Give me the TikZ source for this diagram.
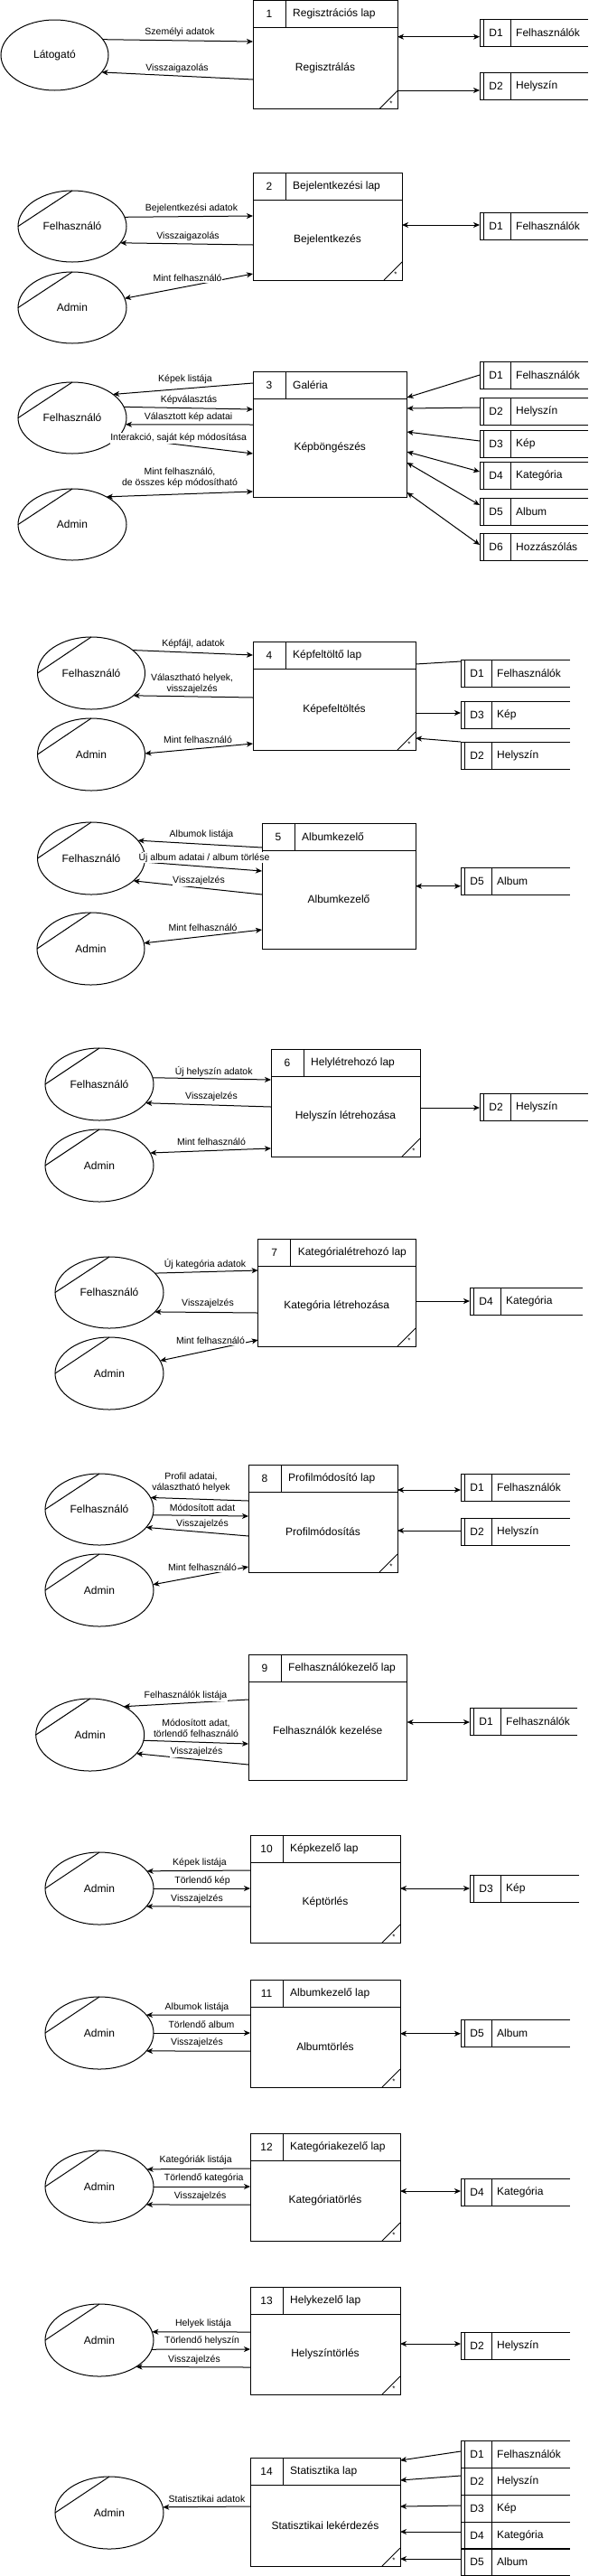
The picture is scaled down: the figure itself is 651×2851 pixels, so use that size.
\documentclass[tikz,border=0pt]{standalone}
\usepackage{fontspec}
\setmainfont{Liberation Sans}
\usetikzlibrary{arrows.meta,shapes.geometric}
% name, x1, y1, w, h, number, title, body, star
\newcommand{\procbox}[9]{%
  \node[procnode, minimum width=#4pt, minimum height=#5pt] (#1) at (#2,#3) {};
  \draw[ln] ([yshift=-30pt]#1.north west) -- ([yshift=-30pt]#1.north east);
  \draw[ln] ([xshift=36pt]#1.north west) -- ([xshift=36pt,yshift=-30pt]#1.north west);
  \node[txt] (#1n) at ([xshift=18pt,yshift=-15pt]#1.north west) {#6};
  \node[txt, anchor=west] (#1t) at ([xshift=44pt,yshift=-15pt]#1.north west) {#7};
  \node[txt] (#1b) at ({#2+#4/2},{#3+(30+#5)/2}) {#8};
  \ifnum#9=1
    \draw[ln] ([xshift=-20pt]#1.south east) -- ([yshift=20pt]#1.south east);
    \node[startxt] (#1s) at ([xshift=-7pt,yshift=6pt]#1.south east) {*};
  \fi
}
% name, x1, y1, w, id, text
\newcommand{\storebox}[6]{%
  \node[storenode, minimum width=#4pt] (#1) at (#2,#3) {};
  \draw[ln] (#1.north east) -- (#1.north west) -- (#1.south west) -- (#1.south east);
  \draw[ln] ([xshift=4.5pt]#1.north west) -- ([xshift=4.5pt]#1.south west);
  \draw[ln] ([xshift=34.5pt]#1.north west) -- ([xshift=34.5pt]#1.south west);
  \node[txt] (#1i) at ([xshift=18pt]#1.west) {#5};
  \node[txt, anchor=west] (#1t) at ([xshift=40pt]#1.west) {#6};
}
% name, cx, cy, w, h, text, chord
\newcommand{\mkent}[7]{%
  \node[ent, minimum width=#4pt, minimum height=#5pt] (#1) at (#2,#3) {#6};
  \ifnum#7=1 \draw[ln] (#1.north) -- (#1.west);\fi
}
\begin{document}
\begin{tikzpicture}[x=1pt,y=-1pt,
  ln/.style={line width=1pt, draw=black},
  arr/.style={ln,-{Stealth[length=7pt,width=6pt,inset=2pt]}},
  darr/.style={ln,{Stealth[length=7pt,width=6pt,inset=2pt]}-{Stealth[length=7pt,width=6pt,inset=2pt]}},
  txt/.style={font=\fontsize{12}{14}\selectfont, inner sep=0pt},
  lbl/.style={font=\fontsize{10.5}{12}\selectfont, inner sep=0.6pt, fill=white, align=center},
  startxt/.style={font=\fontsize{8}{8}\selectfont, inner sep=0pt},
  procnode/.style={draw, line width=1pt, rectangle, anchor=north west, inner sep=0pt, outer sep=0pt},
  storenode/.style={rectangle, anchor=north west, minimum height=30pt, inner sep=0pt, outer sep=0pt},
  ent/.style={draw, line width=1pt, ellipse, inner sep=0pt, outer sep=0pt, font=\fontsize{12}{14}\selectfont},
]
\fill[white] (0,0) rectangle (651,2851);
\useasboundingbox (0,0) rectangle (651,2851);

% ---------- 1 ----------
\procbox{p1}{280}{0.5}{160}{120}{1}{Regisztrációs lap}{Regisztrálás}{1}
\mkent{e1}{60.5}{61}{119}{78}{Látogató}{0}
\storebox{d1a}{531}{21}{120}{D1}{Felhasználók}
\storebox{d2a}{531}{80}{120}{D2}{Helyszín}
\draw[arr] (e1.18) -- (p1.west |- 0,46);
\draw[arr] (p1.west |- 0,88) -- (e1.-20);
\draw[darr] (p1.east |- 0,40.7) -- (d1a.west |- 0,40.7);
\draw[arr] (p1.east |- 0,100) -- (d2a.west |- 0,100);
\node[lbl] (l1a) at (199,36) {Személyi adatok};
\node[lbl] (l1b) at (196,76) {Visszaigazolás};

% ---------- 2 ----------
\procbox{p2}{280}{191}{165}{119}{2}{Bejelentkezési lap}{Bejelentkezés}{1}
\mkent{e2}{80}{250.5}{120}{79}{Felhasználó}{1}
\mkent{e3}{80}{340.5}{120}{79}{Admin}{1}
\storebox{d1b}{531}{235}{120}{D1}{Felhasználók}
\draw[arr] (e2.10) -- (p2.west |- 0,239);
\draw[arr] (p2.west |- 0,271) -- (e2.-19);
\draw[darr] (e3.10) -- (p2.west |- 0,303);
\draw[darr] (p2.east |- 0,249) -- (d1b.west |- 0,249);
\node[lbl] (l2a) at (212,231) {Bejelentkezési adatok};
\node[lbl] (l2b) at (208,262) {Visszaigazolás};
\node[lbl] (l2c) at (207.6,308) {Mint felhasználó};

% ---------- 3 ----------
\procbox{p3}{280}{411}{170.5}{139}{3}{Galéria}{Képböngészés}{0}
\mkent{e4}{80}{462.5}{120}{79}{Felhasználó}{1}
\mkent{e5}{80}{580.5}{120}{79}{Admin}{1}
\storebox{d1c}{531}{400}{120}{D1}{Felhasználók}
\storebox{d2c}{531}{440}{120}{D2}{Helyszín}
\storebox{d3c}{531}{476}{120}{D3}{Kép}
\storebox{d4c}{531}{511}{120}{D4}{Kategória}
\storebox{d5c}{531}{551}{120}{D5}{Album}
\storebox{d6c}{531}{590}{120}{D6}{Hozzászólás}
\draw[arr] (p3.west |- 0,424) -- (e4.30);
\draw[arr] (e4.12) -- (p3.west |- 0,453);
\draw[arr] (p3.west |- 0,470) -- (e4.-7);
\draw[arr] (e4.-23) -- (p3.west |- 0,502);
\draw[darr] (e5.39) -- (p3.west |- 0,544);
\draw[arr] (d1c.west |- 0,415) -- (p3.east |- 0,440);
\draw[arr] (d2c.west |- 0,451) -- (p3.east |- 0,452);
\draw[arr] (d3c.west |- 0,488) -- (p3.east |- 0,478);
\draw[darr] (p3.east |- 0,500) -- (d4c.west |- 0,522);
\draw[darr] (p3.east |- 0,512) -- (d5c.west |- 0,559);
\draw[darr] (p3.east |- 0,545) -- (d6c.west |- 0,603);
\node[lbl] (l3a) at (205,420) {Képek listája};
\node[lbl] (l3b) at (209,443) {Képválasztás};
\node[lbl] (l3c) at (208.6,462) {Választott kép adatai};
\node[lbl] (l3d) at (197.6,485) {Interakció, saját kép módosítása};
\node[lbl] (l3e) at (199,529) {Mint felhasználó,\\de összes kép módosítható};

% ---------- 4 ----------
\procbox{p4}{280}{710}{180}{120}{4}{Képfeltöltő lap}{Képefeltöltés}{1}
\mkent{e6}{101}{745}{119}{80}{Felhasználó}{1}
\mkent{e7}{101}{835}{119}{80}{Admin}{1}
\storebox{d1d}{510}{730}{121}{D1}{Felhasználók}
\storebox{d3d}{510}{776}{121}{D3}{Kép}
\storebox{d2d}{510}{821}{121}{D2}{Helyszín}
\draw[arr] (e6.29) -- (p4.west |- 0,725);
\draw[arr] (p4.west |- 0,772) -- (e6.-28);
\draw[darr] (e7.1) -- (p4.west |- 0,823);
\draw[ln] (p4.east |- 0,735) -- (d1d.west |- 0,732);
\draw[arr] (p4.east |- 0,789) -- (d3d.west |- 0,789);
\draw[arr] (d2d.north west) -- (p4.east |- 0,817);
\node[lbl] (l4a) at (214,713) {Képfájl, adatok};
\node[lbl] (l4b) at (212.6,757) {Választható helyek,\\visszajelzés};
\node[lbl] (l4c) at (219,819) {Mint felhasználó};

% ---------- 5 ----------
\procbox{p5}{290}{911}{170}{139}{5}{Albumkezelő}{Albumkezelő}{0}
\mkent{e8}{101}{950}{119}{80}{Felhasználó}{1}
\mkent{e9}{100.5}{1050}{119}{80}{Admin}{1}
\storebox{d5e}{510}{960}{121}{D5}{Album}
\draw[arr] (p5.west |- 0,938) -- (e8.21);
\draw[arr] (e8.-4) -- (p5.west |- 0,964);
\draw[arr] (p5.west |- 0,990) -- (e8.-28);
\draw[darr] (e9.6) -- (p5.west |- 0,1029);
\draw[darr] (p5.east |- 0,980.7) -- (d5e.west |- 0,980.7);
\node[lbl] (l5a) at (223,924) {Albumok listája};
\node[lbl] (l5b) at (226,949) {Új album adatai / album törlése};
\node[lbl] (l5c) at (220,975) {Visszajelzés};
\node[lbl] (l5d) at (224.6,1027) {Mint felhasználó};

% ---------- 6 ----------
\procbox{p6}{300}{1161}{165}{119}{6}{Helylétrehozó lap}{Helyszín létrehozása}{1}
\mkent{e10}{110}{1200}{120}{80}{Felhasználó}{1}
\mkent{e11}{110}{1290}{120}{80}{Admin}{1}
\storebox{d2f}{531}{1210}{120}{D2}{Helyszín}
\draw[arr] (e10.7) -- (p6.west |- 0,1195);
\draw[arr] (p6.west |- 0,1225) -- (e10.-22);
\draw[darr] (e11.14) -- (p6.west |- 0,1271);
\draw[arr] (p6.east |- 0,1226) -- (d2f.west |- 0,1226);
\node[lbl] (l6a) at (236.7,1186) {Új helyszín adatok};
\node[lbl] (l6b) at (234,1214) {Visszajelzés};
\node[lbl] (l6c) at (234,1264) {Mint felhasználó};

% ---------- 7 ----------
\procbox{p7}{285.6}{1371}{174.4}{119}{7}{Kategórialétrehozó lap}{Kategória létrehozása}{1}
\mkent{e12}{121}{1430.5}{120}{79}{Felhasználó}{1}
\mkent{e13}{121}{1520}{120}{80}{Admin}{1}
\storebox{d4g}{520}{1425}{125}{D4}{Kategória}
\draw[arr] (e12.23) -- (p7.west |- 0,1406);
\draw[arr] (p7.west |- 0,1453) -- (e12.-23);
\draw[darr] (e13.14) -- (p7.west |- 0,1483);
\draw[arr] (p7.east |- 0,1440) -- (d4g.west |- 0,1440);
\node[lbl] (l7a) at (227,1399) {Új kategória adatok};
\node[lbl] (l7b) at (230,1443) {Visszajelzés};
\node[lbl] (l7c) at (233,1484) {Mint felhasználó};

% ---------- 8 ----------
\procbox{p8}{275}{1621}{165}{119}{8}{Profilmódosító lap}{Profilmódosítás}{1}
\mkent{e14}{110}{1670.5}{120}{79}{Felhasználó}{1}
\mkent{e15}{110}{1760}{120}{80}{Admin}{1}
\storebox{d1h}{510}{1631}{121}{D1}{Felhasználók}
\storebox{d2h}{510}{1680}{121}{D2}{Helyszín}
\draw[arr] (p8.west |- 0,1661) -- (e14.13);
\draw[arr] (e14.-6) -- (p8.west |- 0,1678);
\draw[arr] (p8.west |- 0,1700) -- (e14.-21);
\draw[darr] (e15.6) -- (p8.west |- 0,1734);
\draw[darr] (p8.east |- 0,1649) -- (d1h.west |- 0,1649);
\draw[arr] (d2h.west |- 0,1694) -- (p8.east |- 0,1694);
\node[lbl] (l8a) at (211.5,1641) {Profil adatai,\\választható helyek};
\node[lbl] (l8b) at (224,1669) {Módosított adat};
\node[lbl] (l8c) at (224,1687) {Visszajelzés};
\node[lbl] (l8d) at (224,1735) {Mint felhasználó};

% ---------- 9 ----------
\procbox{p9}{275}{1831}{175.5}{139}{9}{Felhasználókezelő lap}{Felhasználók kezelése}{0}
\mkent{e16}{99.7}{1920}{120}{80}{Admin}{1}
\storebox{d1i}{520}{1890}{119}{D1}{Felhasználók}
\draw[arr] (p9.west |- 0,1881) -- (e16.40);
\draw[arr] (e16.-6) -- (p9.west |- 0,1930);
\draw[arr] (p9.west |- 0,1953) -- (e16.-22);
\draw[darr] (p9.east |- 0,1906) -- (d1i.west |- 0,1906);
\node[lbl] (l9a) at (205.5,1877) {Felhasználók listája};
\node[lbl] (l9b) at (217,1913) {Módosított adat,\\törlendő felhasználó};
\node[lbl] (l9c) at (217.5,1939) {Visszajelzés};

% ---------- 10 ----------
\procbox{p10}{277}{2031}{166}{119}{10}{Képkezelő lap}{Képtörlés}{1}
\mkent{e17}{110}{2090}{120}{80}{Admin}{1}
\storebox{d3j}{520}{2075}{121}{D3}{Kép}
\draw[arr] (p10.west |- 0,2070) -- (e17.20);
\draw[arr] (e17.0) -- (p10.west |- 0,2090);
\draw[arr] (p10.west |- 0,2110) -- (e17.-21);
\draw[darr] (p10.east |- 0,2090) -- (d3j.west |- 0,2090);
\node[lbl] (l10a) at (221,2062) {Képek listája};
\node[lbl] (l10b) at (224,2082) {Törlendő kép};
\node[lbl] (l10c) at (218,2102) {Visszajelzés};

% ---------- 11 ----------
\procbox{p11}{277}{2191}{166}{119}{11}{Albumkezelő lap}{Albumtörlés}{1}
\mkent{e18}{110}{2250}{120}{80}{Admin}{1}
\storebox{d5k}{510}{2235}{121}{D5}{Album}
\draw[arr] (p11.west |- 0,2230) -- (e18.21);
\draw[arr] (e18.0) -- (p11.west |- 0,2250);
\draw[arr] (p11.west |- 0,2270) -- (e18.-21);
\draw[darr] (p11.east |- 0,2250.7) -- (d5k.west |- 0,2250.7);
\node[lbl] (l11a) at (218,2222) {Albumok listája};
\node[lbl] (l11b) at (223,2241) {Törlendő album};
\node[lbl] (l11c) at (218,2261) {Visszajelzés};

% ---------- 12 ----------
\procbox{p12}{277}{2361}{166}{119}{12}{Kategóriakezelő lap}{Kategóriatörlés}{1}
\mkent{e19}{110}{2420}{120}{80}{Admin}{1}
\storebox{d4l}{510}{2411}{121}{D4}{Kategória}
\draw[arr] (p12.west |- 0,2400) -- (e19.20);
\draw[arr] (e19.0) -- (p12.west |- 0,2420);
\draw[arr] (p12.west |- 0,2440) -- (e19.-21);
\draw[darr] (p12.east |- 0,2425) -- (d4l.west |- 0,2425);
\node[lbl] (l12a) at (216.7,2391) {Kategóriák listája};
\node[lbl] (l12b) at (225.7,2411) {Törlendő kategória};
\node[lbl] (l12c) at (221.7,2431) {Visszajelzés};

% ---------- 13 ----------
\procbox{p13}{277}{2531}{166}{119}{13}{Helykezelő lap}{Helyszíntörlés}{1}
\mkent{e20}{110}{2590}{120}{80}{Admin}{1}
\storebox{d2m}{510}{2581}{121}{D2}{Helyszín}
\draw[arr] (p13.west |- 0,2581) -- (e20.9);
\draw[arr] (e20.-10) -- (p13.west |- 0,2600);
\draw[arr] (p13.west |- 0,2620) -- (e20.-36);
\draw[darr] (p13.east |- 0,2594) -- (d2m.west |- 0,2594);
\node[lbl] (l13a) at (225,2572) {Helyek listája};
\node[lbl] (l13b) at (223.6,2591) {Törlendő helyszín};
\node[lbl] (l13c) at (215,2612) {Visszajelzés};

% ---------- 14 ----------
\procbox{p14}{277}{2720}{166}{120}{14}{Statisztika lap}{Statisztikai lekérdezés}{1}
\mkent{e21}{121}{2781}{120}{80}{Admin}{1}
\storebox{d1n}{510}{2701}{121}{D1}{Felhasználók}
\storebox{d2n}{510}{2731}{121}{D2}{Helyszín}
\storebox{d3n}{510}{2761}{121}{D3}{Kép}
\storebox{d4n}{510}{2791}{121}{D4}{Kategória}
\storebox{d5n}{510}{2820.5}{121}{D5}{Album}
\draw[arr] (p14.west |- 0,2774) -- (e21.6);
\draw[arr] (d1n.west |- 0,2713) -- (p14.east |- 0,2723);
\draw[arr] (d2n.west |- 0,2740) -- (p14.east |- 0,2745);
\draw[arr] (d3n.west |- 0,2773) -- (p14.east |- 0,2774);
\draw[arr] (d4n.west |- 0,2802) -- (p14.east |- 0,2802);
\draw[arr] (d5n.west |- 0,2832) -- (p14.east |- 0,2832);
\node[lbl] (l14a) at (229,2766) {Statisztikai adatok};
\end{tikzpicture}
\end{document}
